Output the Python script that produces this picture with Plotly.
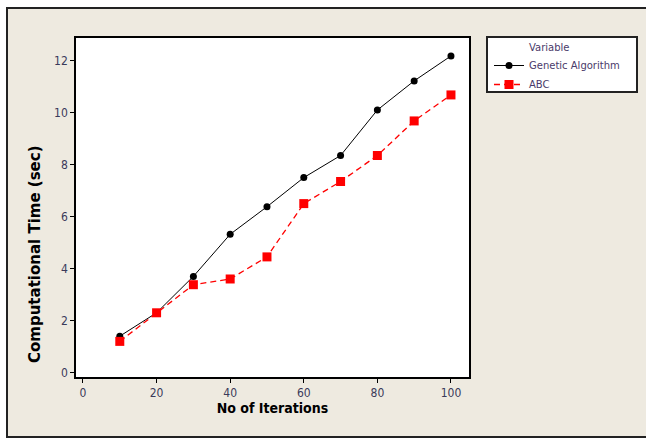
import plotly.graph_objects as go

iterations = [10, 20, 30, 40, 50, 60, 70, 80, 90, 100]
ga_time = [1.4, 2.3, 3.7, 5.32, 6.38, 7.5, 8.35, 10.1, 11.22, 12.18]
abc_time = [1.2, 2.3, 3.38, 3.6, 4.45, 6.5, 7.35, 8.35, 9.68, 10.68]
x_ticks = [0, 20, 40, 60, 80, 100]
y_ticks = [0, 2, 4, 6, 8, 10, 12]

L, R, T, B = 76, 469, 38, 377
W, H = 646, 439
pw, ph = R - L, B - T

def px(xpix):
    return (xpix - L) / pw

def py(ypix):
    return (B - ypix) / ph

fig = go.Figure()
fig.add_trace(go.Scatter(
    x=iterations, y=ga_time, name="Genetic Algorithm", mode="lines+markers",
    line=dict(color="black", width=1),
    marker=dict(symbol="circle", size=7, color="black"),
))
fig.add_trace(go.Scatter(
    x=iterations, y=abc_time, name="ABC", mode="lines+markers",
    line=dict(color="#ff0000", width=1.3, dash="6px,4px"),
    marker=dict(symbol="square", size=9, color="#ff0000"),
))

# outer beige frame
fig.add_shape(type="rect", xref="paper", yref="paper",
              x0=px(7), x1=px(760), y0=py(437), y1=py(8),
              line=dict(color="#222222", width=2), fillcolor="#EEEAE0", layer="below")
# plot area white
fig.add_shape(type="rect", xref="paper", yref="paper",
              x0=0, x1=1, y0=0, y1=1,
              line=dict(width=0), fillcolor="white", layer="below")
# legend box
fig.add_shape(type="rect", xref="paper", yref="paper",
              x0=px(487), x1=px(637), y0=py(92), y1=py(37),
              line=dict(color="#222222", width=2), fillcolor="white", layer="below")

tickfont = dict(family="DejaVu Sans Condensed, DejaVu Sans", size=12, color="#3a3a5a")
xtitlefont = dict(family="DejaVu Sans Condensed, DejaVu Sans", size=14, color="black", weight="bold")
ytitlefont = dict(family="DejaVu Sans, Verdana", size=15, color="black", weight="bold")
legfont = dict(family="DejaVu Sans", size=10, color="#4a3a6a")

fig.add_annotation(text="Computational Time (sec)", xref="paper", yref="paper",
                   x=px(35), y=py(254), xanchor="center", yanchor="middle",
                   textangle=-90, showarrow=False, font=ytitlefont)
fig.add_annotation(text="Variable", xref="paper", yref="paper",
                   x=px(527), y=py(47), xanchor="left", yanchor="middle",
                   showarrow=False, font=legfont)

fig.update_layout(
    width=W, height=H,
    margin=dict(l=L, r=W - R, t=T, b=H - B, autoexpand=False),
    paper_bgcolor="white",
    plot_bgcolor="white",
    showlegend=True,
    legend=dict(
        x=px(489), y=py(51), xanchor="left", yanchor="top",
        bgcolor="rgba(0,0,0,0)", borderwidth=0,
        font=legfont,
        tracegroupgap=0, itemwidth=30,
    ),
    xaxis=dict(
        range=[-1.9, 104.9], tickvals=x_ticks, ticktext=[str(v) for v in x_ticks],
        showgrid=False, zeroline=False, showline=True, linecolor="black", linewidth=1.5, mirror=True,
        ticks="outside", ticklen=4, tickcolor="black", tickfont=tickfont,
        title=dict(text="No of Iterations", font=xtitlefont, standoff=3),
    ),
    yaxis=dict(
        range=[-0.17, 12.87], tickvals=y_ticks, ticktext=[str(v) for v in y_ticks],
        showgrid=False, zeroline=False, showline=True, linecolor="black", linewidth=1.5, mirror=True,
        ticks="outside", ticklen=4, tickcolor="black", tickfont=tickfont,
    ),
)

fig.write_html("out.html", config={"displayModeBar": False},
               post_script="document.body.style.margin='0';document.body.style.overflow='hidden';")
